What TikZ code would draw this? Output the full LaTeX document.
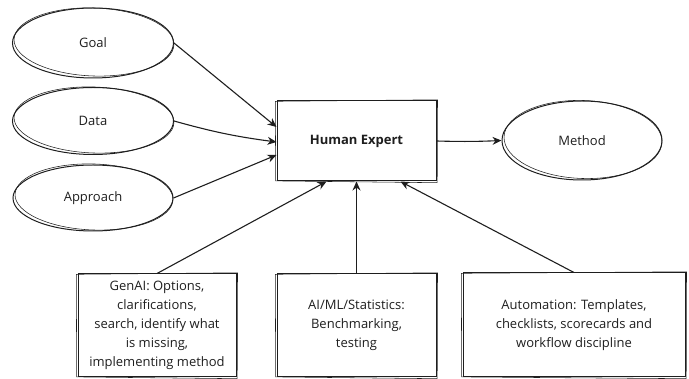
\documentclass[tikz,border=0pt]{standalone}
\usepackage{fontspec}
\setmainfont{Open Sans}
\usetikzlibrary{shapes.geometric,arrows.meta}
\definecolor{ink}{HTML}{1E1E1E}
\newcommand\skrect[1]{\draw[sk] ([shift={(-1.2,0.8)}]#1.north west) -- ([shift={(1,-0.7)}]#1.north east) -- ([shift={(0.7,1.2)}]#1.south east) -- ([shift={(-0.8,-0.6)}]#1.south west) -- cycle;}
\newcommand\skoval[3]{\draw[sk] ([shift={(1,-1)}]#1.center) ellipse [x radius=#2, y radius=#3, rotate=-2];}
\begin{document}
\begin{tikzpicture}[x=1pt,y=-1pt,
  lbl/.style={font=\fontsize{13}{19}\selectfont, align=center, text=ink},
  oval/.style={ellipse, draw=ink, line width=1pt, inner sep=0pt, lbl},
  boxn/.style={rectangle, draw=ink, line width=1pt, inner sep=0pt, lbl},
  sk/.style={draw=ink, line width=0.55pt},
  arr/.style={draw=ink, -{Stealth[length=9pt,width=8pt]}, line width=1.1pt}
]
\useasboundingbox (0,0) rectangle (689,379);
% left ovals
\node[oval, minimum width=161pt, minimum height=70pt] (goal) at (93,43) {Goal};
\node[oval, minimum width=161pt, minimum height=67pt] (data) at (93,121) {Data};
\node[oval, minimum width=160pt, minimum height=66pt] (approach) at (93,198) {Approach};
\skoval{goal}{80}{34}
\skoval{data}{80}{33}
\skoval{approach}{79}{33}
% center box
\node[boxn, minimum width=159pt, minimum height=80pt, font=\fontsize{13}{19}\selectfont\bfseries] (human) at (356.5,141) {Human Expert};
\skrect{human}
% method
\node[oval, minimum width=160pt, minimum height=79pt] (method) at (582,140.5) {Method};
\skoval{method}{79}{39}
% bottom boxes
\node[boxn, minimum width=158pt, minimum height=103pt] (genai) at (157,325.5)
  {GenAI: Options,\\clarifications,\\search, identify what\\is missing,\\implementing method};
\node[boxn, minimum width=159pt, minimum height=103pt] (aiml) at (356.5,325.5)
  {AI/ML/Statistics:\\Benchmarking,\\testing};
\node[boxn, minimum width=222pt, minimum height=104pt] (auto) at (574,325)
  {Automation: Templates,\\checklists, scorecards and\\workflow discipline};
\skrect{genai}
\skrect{aiml}
\skrect{auto}
% connectors
\draw[arr] (goal.east) -- ([yshift=14pt]human.west);
\draw[arr] (data.east) to[bend right=4] ([yshift=-1pt]human.west);
\draw[arr] (approach.east) -- ([yshift=-14pt]human.west);
\draw[arr] (human.east) to[bend right=2] (method.west);
\draw[arr] (genai.north) -- ([xshift=-30pt]human.south);
\draw[arr] (aiml.north) -- (human.south);
\draw[arr] (auto.north) -- ([xshift=44pt]human.south);
\end{tikzpicture}
\end{document}
